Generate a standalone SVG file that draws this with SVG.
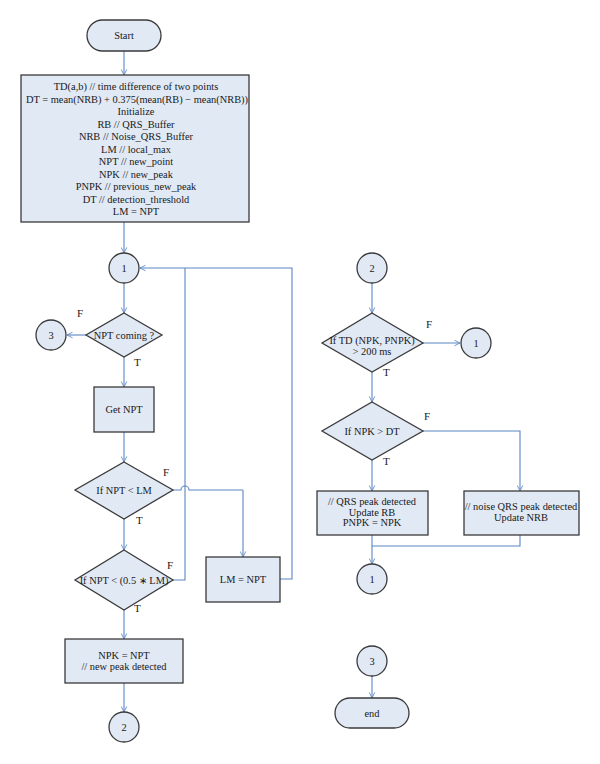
<svg xmlns="http://www.w3.org/2000/svg" width="600" height="764" viewBox="0 0 600 764">
<defs>
<marker id="ah" viewBox="0 0 10 10" refX="9" refY="5" markerWidth="7" markerHeight="7" orient="auto" markerUnits="userSpaceOnUse">
<path d="M1,1 L9,5 L1,9" fill="none" stroke="#5b86c4" stroke-width="1.2"/>
</marker>
</defs>
<style>
.s{fill:#e1e9f5;stroke:#3a3a3a;stroke-width:1.3}
.t{font-family:"Liberation Serif",serif;font-size:10.4px;fill:#1a1a1a;text-anchor:middle}
.l{font-family:"Liberation Serif",serif;font-size:11px;fill:#1a1a1a}
.c{fill:none;stroke:#5b86c4;stroke-width:1.1}
.a{fill:none;stroke:#5b86c4;stroke-width:1.1;marker-end:url(#ah)}
</style>
<rect width="600" height="764" fill="#fff"/>
<g id="connectors">
<line class="a" x1="124" y1="51" x2="124" y2="75"/>
<line class="a" x1="124" y1="222" x2="124" y2="253"/>
<line class="a" x1="124" y1="283" x2="124" y2="313"/>
<line class="a" x1="86" y1="335" x2="67" y2="335"/>
<line class="a" x1="124" y1="357" x2="124" y2="387"/>
<line class="a" x1="124" y1="432" x2="124" y2="462"/>
<line class="a" x1="124" y1="519" x2="124" y2="550"/>
<path class="c" d="M173,490 H181 A4,4 0 0 1 189,490 H243"/>
<line class="a" x1="243" y1="490" x2="243" y2="557"/>
<path class="c" d="M173,580 H185 V268"/>
<path class="a" d="M280,579 H292 V268 H140"/>
<line class="a" x1="124" y1="610" x2="124" y2="639"/>
<line class="a" x1="124" y1="683" x2="124" y2="712"/>
<line class="a" x1="372" y1="283" x2="372" y2="313"/>
<line class="a" x1="423" y1="343" x2="460" y2="343"/>
<line class="a" x1="372" y1="372" x2="372" y2="402"/>
<path class="a" d="M423,431 H520 V491"/>
<line class="a" x1="372" y1="460" x2="372" y2="491"/>
<path class="c" d="M520,535 V546 H372"/>
<line class="a" x1="372" y1="535" x2="372" y2="564"/>
<line class="a" x1="372" y1="676" x2="372" y2="698"/>
</g>
<g id="start">
<rect class="s" x="87" y="20" width="74" height="31" rx="15.5"/>
<text class="t" x="124" y="39">Start</text>
</g>
<g id="init">
<rect class="s" x="21" y="75" width="228" height="147"/>
<text class="t" x="136" y="90">TD(a,b) // time difference of two points</text>
<text class="t" x="137" y="103" textLength="222" lengthAdjust="spacingAndGlyphs">DT = mean(NRB) + 0.375(mean(RB) − mean(NRB))</text>
<text class="t" x="136" y="115">Initialize</text>
<text class="t" x="136" y="127.5">RB // QRS_Buffer</text>
<text class="t" x="136" y="140">NRB // Noise_QRS_Buffer</text>
<text class="t" x="136" y="152.5">LM // local_max</text>
<text class="t" x="136" y="165">NPT // new_point</text>
<text class="t" x="136" y="177.5">NPK // new_peak</text>
<text class="t" x="136" y="190">PNPK // previous_new_peak</text>
<text class="t" x="136" y="202.5">DT // detection_threshold</text>
<text class="t" x="136" y="215">LM = NPT</text>
</g>
<g id="c1a">
<circle class="s" cx="124" cy="268" r="15"/>
<text class="t" x="124" y="272">1</text>
</g>
<g id="d1">
<polygon class="s" points="124,313 162,335 124,357 86,335"/>
<text class="t" x="124" y="339">NPT coming ?</text>
<text class="l" x="77" y="317">F</text>
<text class="l" x="134" y="366">T</text>
</g>
<g id="c3a">
<circle class="s" cx="51" cy="335" r="15"/>
<text class="t" x="51" y="339">3</text>
</g>
<g id="getnpt">
<rect class="s" x="94" y="387" width="60" height="45"/>
<text class="t" x="124" y="413">Get NPT</text>
</g>
<g id="d2">
<polygon class="s" points="124,462 173,490 124,519 75,490"/>
<text class="t" x="124" y="494">If NPT &lt; LM</text>
<text class="l" x="163" y="476">F</text>
<text class="l" x="136" y="524">T</text>
</g>
<g id="d3">
<polygon class="s" points="124,550 173,580 124,610 75,580"/>
<text class="t" x="124" y="584">If NPT &lt; (0.5 ∗ LM)</text>
<text class="l" x="167" y="569">F</text>
<text class="l" x="134" y="612">T</text>
</g>
<g id="lmnpt">
<rect class="s" x="206" y="557" width="74" height="45"/>
<text class="t" x="243" y="583">LM = NPT</text>
</g>
<g id="npk">
<rect class="s" x="65" y="639" width="118" height="44"/>
<text class="t" x="124" y="659">NPK = NPT</text>
<text class="t" x="124" y="670">// new peak detected</text>
</g>
<g id="c2a">
<circle class="s" cx="124" cy="727" r="15"/>
<text class="t" x="124" y="731">2</text>
</g>
<g id="c2b">
<circle class="s" cx="372" cy="268" r="15"/>
<text class="t" x="372" y="272">2</text>
</g>
<g id="d4">
<polygon class="s" points="372,313 423,343 372,372 322,343"/>
<text class="t" x="372" y="344">If TD (NPK, PNPK)</text>
<text class="t" x="372" y="355">&gt; 200 ms</text>
<text class="l" x="426" y="328">F</text>
<text class="l" x="383" y="376">T</text>
</g>
<g id="c1b">
<circle class="s" cx="476" cy="343" r="15"/>
<text class="t" x="476" y="347">1</text>
</g>
<g id="d5">
<polygon class="s" points="372,402 423,431 372,460 322,431"/>
<text class="t" x="372" y="435">If NPK &gt; DT</text>
<text class="l" x="424" y="420">F</text>
<text class="l" x="383" y="465">T</text>
</g>
<g id="qrs">
<rect class="s" x="317" y="491" width="111" height="44"/>
<text class="t" x="372" y="505">// QRS peak detected</text>
<text class="t" x="372" y="515.5">Update RB</text>
<text class="t" x="372" y="526">PNPK = NPK</text>
</g>
<g id="noise">
<rect class="s" x="464" y="491" width="115" height="44"/>
<text class="t" x="521" y="510">// noise QRS peak detected</text>
<text class="t" x="521" y="521">Update NRB</text>
</g>
<g id="c1c">
<circle class="s" cx="372" cy="579" r="15"/>
<text class="t" x="372" y="583">1</text>
</g>
<g id="c3b">
<circle class="s" cx="372" cy="661" r="15"/>
<text class="t" x="372" y="665">3</text>
</g>
<g id="end">
<rect class="s" x="335" y="698" width="74" height="30" rx="15"/>
<text class="t" x="372" y="717">end</text>
</g>
</svg>
